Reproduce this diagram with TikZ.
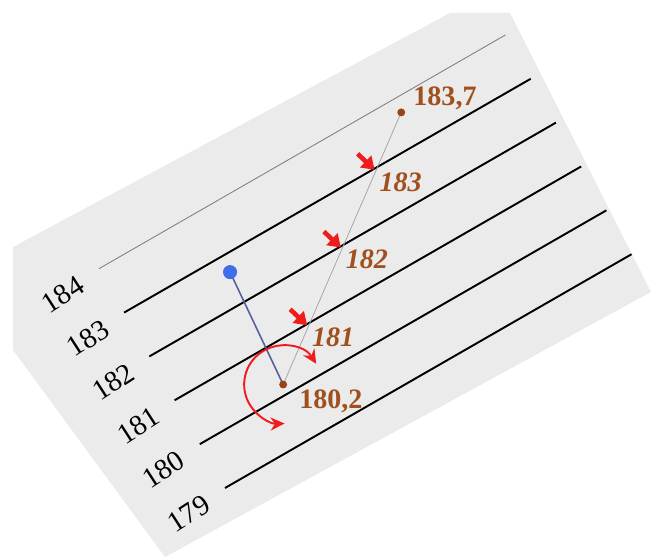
\documentclass[tikz,border=0pt]{standalone}
\usepackage{fontspec}
\setmainfont{Liberation Serif}
\usetikzlibrary{arrows.meta,calc}
\definecolor{card}{HTML}{EBEBEB}
\definecolor{rust}{HTML}{A0501F}
\definecolor{dotbrown}{HTML}{9A4215}
\definecolor{hintred}{HTML}{F01C1C}
\definecolor{pin}{HTML}{3F6FE8}
\definecolor{pinline}{HTML}{55609F}
\definecolor{guide}{HTML}{A0A0A0}

\begin{document}
\begin{tikzpicture}[x=0.02cm,y=0.02cm,
 lvl/.style={line width=1.1pt,black},
 num/.style={font=\fontsize{16.5}{16.5}\selectfont,inner sep=0pt,anchor=east,transform shape,rotate=3},
 val/.style={font=\fontsize{16}{16}\selectfont\bfseries,text=rust,inner sep=1pt,anchor=west},
 cross/.style={font=\fontsize{16}{16}\selectfont\bfseries\itshape,text=rust,inner sep=0pt},
 dot/.style={circle,fill=dotbrown,inner sep=0pt,minimum size=4.5pt},
 hint/.style={-{Triangle[length=7pt,width=9pt]},line width=2.6pt,hintred},
 turn/.style={{Stealth[length=8pt,width=7.5pt]}-{Stealth[length=8pt,width=7.5pt]},line width=1.1pt,hintred}]
 \useasboundingbox (0,0) rectangle (651,557);
 \fill[card] (13,310) -- (450,544) -- (510,544) -- (651,265) -- (165,0) -- (13,207) -- cycle;
 % levels 179..184, one unit of y per level
 \begin{scope}[shift={(225,69)},rotate=29.9,y=1.012cm]
  \foreach \i in {0,...,5}{
   \pgfmathtruncatemacro\lab{179+\i}
   \node[num] (n\lab) at (-22,\i-0.06) {\lab};
  }
  \foreach \i in {0,...,4} \draw[lvl] (0,\i) -- (469,\i);
  \draw[line width=0.5pt,gray] (0,5) -- (469,5);
  \coordinate (p180) at (102,1.2);
  \coordinate (p183) at (340,4.7);
  \coordinate (top) at (112,3.65);
  \coordinate (c181) at ($(p180)!0.2286!(p183)$);
  \coordinate (c182) at ($(p180)!0.5143!(p183)$);
  \coordinate (c183) at ($(p180)!0.8!(p183)$);
 \end{scope}
 \draw[guide,line width=0.4pt] (p183) -- (p180);
 \draw[pinline,line width=0.9pt] (top) -- (p180);
 \node[circle,fill=pin,inner sep=0pt,minimum size=8pt] (pin) at (top) {};
 \node[dot] (d180) at (p180) {};
 \node[dot] (d183) at (p183) {};
 \foreach \c in {181,182,183}{
  \draw[hint] ($(c\c)+(-20,13)$) -- ($(c\c)+(-3,-3)$);
  \node[cross] (t\c) at ($(c\c)+(23,-15)$) {\c};
 }
 \node[val] (v183) at ($(d183)+(10,14)$) {183,7};
 \node[val] (v180) at ($(d180)+(14,-17)$) {180,2};
 \draw[turn] ($(d180.center)+(32:39)$) arc[start angle=32,end angle=272,radius=39];
\end{tikzpicture}
\end{document}
